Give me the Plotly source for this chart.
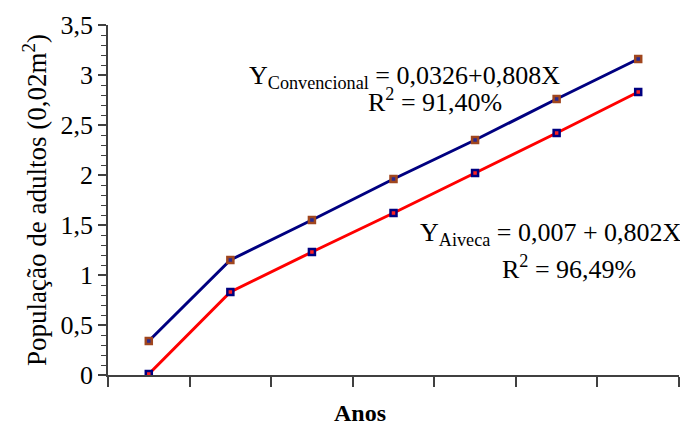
import plotly.graph_objects as go

anos = [1, 2, 3, 4, 5, 6, 7]
convencional = [0.34, 1.15, 1.55, 1.96, 2.35, 2.76, 3.16]
aiveca = [0.01, 0.83, 1.23, 1.62, 2.02, 2.42, 2.83]
y_tickvals = [0, 0.5, 1, 1.5, 2, 2.5, 3, 3.5]
y_ticktext = ["0", "0,5", "1", "1,5", "2", "2,5", "3", "3,5"]
x_tickvals = [0.5, 1.5, 2.5, 3.5, 4.5, 5.5, 6.5, 7.5]

FONT = "Liberation Serif"

fig = go.Figure()
fig.add_trace(go.Scatter(
    x=anos, y=convencional, mode="lines+markers", name="Convencional",
    line=dict(color="#000080", width=3),
    marker=dict(symbol="square", size=6, color="#2a2a90",
                line=dict(color="#A0461E", width=2.5)),
))
fig.add_trace(go.Scatter(
    x=anos, y=aiveca, mode="lines+markers", name="Aiveca",
    line=dict(color="#FF0000", width=3),
    marker=dict(symbol="square", size=6, color="#FF2020",
                line=dict(color="#000080", width=2.5)),
))

fig.update_layout(
    width=680, height=418,
    margin=dict(l=100, r=9, t=17, b=51, autoexpand=False),
    paper_bgcolor="white", plot_bgcolor="white",
    showlegend=False,
    font=dict(family=FONT, color="black", size=24),
    separators=", ",
)
fig.update_xaxes(
    range=[0.5, 7.5], tickvals=x_tickvals, ticktext=[""] * len(x_tickvals),
    ticks="outside", ticklen=10, tickwidth=1.5, tickcolor="#404040",
    showline=True, linecolor="#404040", linewidth=1.5,
    showgrid=False, zeroline=False,
)
fig.update_yaxes(
    range=[0, 3.5], tickvals=y_tickvals, ticktext=y_ticktext,
    ticks="outside", ticklen=8, tickwidth=1.5, tickcolor="#404040",
    minor=dict(dtick=0.1, ticks="outside", ticklen=5, tickwidth=1.2, tickcolor="#404040"),
    showline=True, linecolor="#404040", linewidth=1.5,
    showgrid=False, zeroline=False,
    tickfont=dict(family=FONT, size=26),
    title=dict(text="População de adultos (0,02m<sup>2</sup>)", font=dict(family=FONT, size=27), standoff=6),
)

fig.add_annotation(x=3.59, y=-0.109, xref="x", yref="paper", xanchor="center", yanchor="middle",
                   text="<b>Anos</b>", showarrow=False, font=dict(family=FONT, size=24, color="black"))

ann_font = dict(family=FONT, size=26, color="black")
fig.add_annotation(x=2.20, y=2.98, xref="x", yref="y", xanchor="left", yanchor="middle",
                   text="Y<sub>Convencional</sub> = 0,0326+0,808X", showarrow=False, font=ann_font)
fig.add_annotation(x=3.663, y=2.75, xref="x", yref="y", xanchor="left", yanchor="middle",
                   text="R<sup>2</sup> = 91,40%", showarrow=False, font=ann_font)
fig.add_annotation(x=4.30, y=1.41, xref="x", yref="y", xanchor="left", yanchor="middle",
                   text="Y<sub>Aiveca</sub> = 0,007 + 0,802X", showarrow=False, font=ann_font)
fig.add_annotation(x=5.306, y=1.08, xref="x", yref="y", xanchor="left", yanchor="middle",
                   text="R<sup>2</sup> = 96,49%", showarrow=False, font=ann_font)

fig.write_html("out.html")
